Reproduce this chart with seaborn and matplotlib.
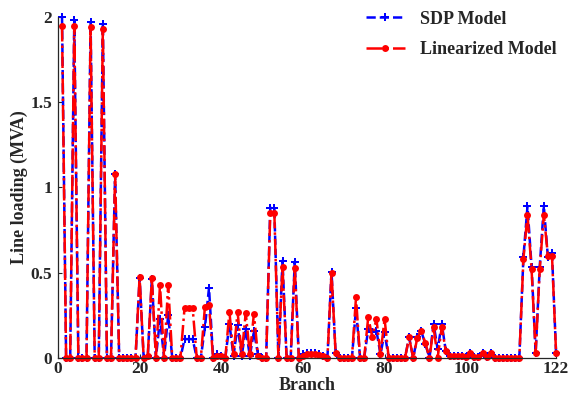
import matplotlib
matplotlib.use("Agg")
import matplotlib.pyplot as plt
import seaborn as sns
import pandas as pd

# branch numbers 1..122
branch = list(range(1, 123))

sdp_model = [
    2.00, 0, 0, 1.98, 0, 0, 0, 1.97, 0, 0,
    1.96, 0, 0, 1.08, 0, 0, 0, 0, 0, 0.47,
    0, 0.01, 0.46, 0, 0.23, 0, 0.25, 0, 0, 0,
    0.11, 0.11, 0.11, 0, 0, 0.18, 0.41, 0, 0.02, 0.01,
    0, 0.20, 0.01, 0.19, 0.01, 0.17, 0.01, 0.155, 0.02, 0,
    0, 0.88, 0.88, 0, 0.57, 0, 0, 0.565, 0, 0.02,
    0.03, 0.03, 0.03, 0.02, 0.01, 0, 0.505, 0.03, 0, 0,
    0, 0, 0.29, 0, 0, 0.17, 0.15, 0.16, 0.02, 0.15,
    0, 0, 0, 0, 0, 0.12, 0, 0.12, 0.155, 0.08,
    0, 0.20, 0.05, 0.20, 0.04, 0.01, 0.01, 0.01, 0.01, 0.005,
    0.03, 0.005, 0.005, 0.03, 0.005, 0.03, 0, 0, 0, 0,
    0, 0, 0, 0.59, 0.89, 0.535, 0.03, 0.535, 0.89, 0.59,
    0.615, 0.03,
]

linearized_model = [
    1.95, 0, 0, 1.95, 0, 0, 0, 1.94, 0, 0,
    1.93, 0, 0, 1.08, 0, 0, 0, 0, 0, 0.475,
    0, 0.01, 0.47, 0, 0.43, 0, 0.43, 0, 0, 0,
    0.29, 0.29, 0.29, 0, 0, 0.30, 0.31, 0, 0.01, 0.01,
    0, 0.27, 0.02, 0.27, 0.02, 0.265, 0.02, 0.26, 0.01, 0,
    0, 0.85, 0.85, 0, 0.535, 0, 0, 0.53, 0, 0.01,
    0.02, 0.02, 0.02, 0.015, 0.01, 0, 0.50, 0.03, 0, 0,
    0, 0, 0.355, 0, 0, 0.24, 0.12, 0.23, 0.02, 0.23,
    0, 0, 0, 0, 0, 0.12, 0, 0.115, 0.16, 0.085,
    0, 0.18, 0.0, 0.18, 0.04, 0.01, 0.01, 0.01, 0.01, 0.005,
    0.03, 0.005, 0.005, 0.03, 0.005, 0.03, 0, 0, 0, 0,
    0, 0, 0, 0.58, 0.84, 0.52, 0.03, 0.52, 0.84, 0.60,
    0.60, 0.03,
]

x_ticks = [0, 20, 40, 60, 80, 100, 122]
y_ticks = [0, 0.5, 1, 1.5, 2]
y_tick_labels = ["0", "0.5", "1", "1.5", "2"]

df = pd.DataFrame({"branch": branch, "sdp": sdp_model, "lin": linearized_model})

sns.set_style("ticks")
plt.rcParams["font.family"] = ["Liberation Serif", "DejaVu Serif"]
plt.rcParams["font.weight"] = "bold"

fig = plt.figure(figsize=(5.68, 3.95), dpi=100)
ax = fig.add_axes([0.102, 0.094, 0.877, 0.863])

sns.lineplot(data=df, x="branch", y="sdp", ax=ax, color="blue", linestyle="--",
             marker="P", markersize=6, markeredgewidth=0, linewidth=1.8,
             label="SDP Model", clip_on=False)
sns.lineplot(data=df, x="branch", y="lin", ax=ax, color="red", linestyle="-.",
             marker="o", markersize=5, markeredgewidth=0, linewidth=1.8,
             label="Linearized Model", clip_on=False)

ax.set_xlim(0, 122)
ax.set_ylim(0, 2)
ax.set_xticks(x_ticks)
ax.set_yticks(y_ticks)
ax.set_yticklabels(y_tick_labels)
ax.tick_params(direction="in", length=3, labelsize=12.5, pad=2)
ax.tick_params(axis="y", pad=4)
for lab in ax.get_xticklabels() + ax.get_yticklabels():
    lab.set_fontweight("bold")
for sp in ax.spines.values():
    sp.set_linewidth(0.9)
ax.set_xlabel("Branch", fontsize=13, fontweight="bold", labelpad=0)
ax.set_ylabel("Line loading (MVA)", fontsize=13, fontweight="bold", labelpad=2)
sns.despine(ax=ax)

leg = ax.legend(loc="upper right", frameon=False, fontsize=13, numpoints=1,
                handlelength=2.2, borderaxespad=0.0,
                bbox_to_anchor=(1.015, 1.04), labelspacing=0.75)
for t in leg.get_texts():
    t.set_fontweight("bold")

fig.savefig("out.png", dpi=100)
